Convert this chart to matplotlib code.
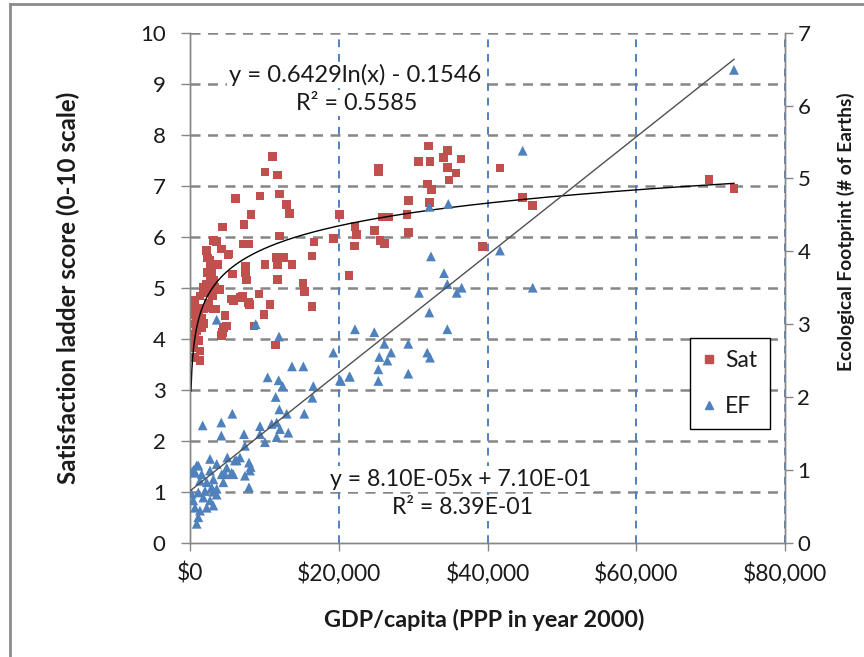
import numpy as np
import matplotlib
matplotlib.use('Agg')
import matplotlib.pyplot as plt
from matplotlib.lines import Line2D

plt.rcParams['font.family'] = ['Lato', 'DejaVu Sans']

# ---- data (GDP per capita in $, satisfaction score 0-10) ----
sat_gdp = [100, 150, 440, 670, 1340, 2020, 1120, 1790, 440, 1570, 670, 1120, 440, 1340, 670, 1340,
           360, 1880, 900, 2240, 3140, 2690, 2910, 2240, 3140, 3590, 4260, 5150, 2800, 2200, 3140,
           4030, 4480, 4260, 3500, 4700, 4930, 4350, 2380, 2780, 3720, 2910, 1800, 2500, 3000, 1600,
           2100, 2600, 300, 800, 1000, 2300, 2700, 3300,
           4350, 3600, 6100, 7260, 8200, 9400, 10100, 11100, 11800, 12000, 13000, 13350, 12000, 16700,
           7170, 7930, 5110, 10080, 11740, 11650, 12550, 13700, 16400, 7440, 5740, 7570, 7490, 11800,
           15200, 15370, 9280, 5830, 7080, 7970, 10760, 16400, 9950, 8600, 11500, 6720, 7840, 5600,
           20070, 19270, 22180, 22140, 21400, 22410, 24780, 25550, 26130, 25860, 26760, 25320, 25320,
           29200, 29350, 29350, 32180, 31900, 32500, 30700, 32270, 32040, 34060, 34600, 36440, 34600,
           35770, 34820, 41680, 39350, 44730, 46080, 69780, 73140]
sat_score = [4.68, 4.71, 4.55, 4.75, 4.84, 4.91, 4.48, 4.58, 4.29, 4.22, 4.09, 3.96, 3.83, 3.76, 3.63, 3.57,
             4.47, 4.30, 4.16, 5.07, 5.14, 5.53, 5.30, 5.73, 5.92, 5.46, 5.76, 5.66, 5.05, 4.98, 4.58,
             4.97, 4.22, 4.06, 4.58, 4.46, 4.25, 4.12, 5.58, 5.45, 5.45, 5.24, 5.00, 4.70, 4.85, 4.40,
             4.60, 4.95, 4.00, 4.35, 4.60, 5.30, 5.20, 5.00,
             6.19, 5.91, 6.75, 6.24, 6.43, 6.80, 7.27, 7.57, 7.21, 6.84, 6.63, 6.46, 6.01, 5.90,
             5.86, 5.86, 5.65, 5.45, 5.45, 5.59, 5.59, 5.45, 5.62, 5.42, 5.27, 5.15, 5.30, 5.16,
             5.09, 4.93, 4.88, 4.75, 4.83, 4.67, 4.67, 4.63, 4.47, 4.25, 3.88, 4.81, 4.71, 4.78,
             6.43, 5.97, 6.20, 5.82, 5.24, 6.04, 6.12, 5.92, 5.87, 6.39, 6.39, 7.34, 7.28,
             6.43, 6.71, 6.08, 6.67, 7.03, 6.92, 7.47, 7.47, 7.78, 7.55, 7.69, 7.52, 7.36,
             7.25, 7.11, 7.35, 5.81, 6.77, 6.61, 7.12, 6.94]

# ---- data (GDP per capita in $, ecological footprint in # of Earths) ----
ef_gdp = [300, 500, 220, 1120, 2020, 2910, 3590, 1340, 2240, 3140, 1790, 2690, 3140, 2240, 1340, 1120,
          900, 440, 670, 2690, 900, 670, 3590, 4930, 6050, 2690, 4260, 5600, 4700, 5830, 1570, 7390,
          4480, 7930, 3580, 3140, 1120, 1700, 4210, 4210, 5690, 7260, 6280, 5020, 7930, 8070, 3590, 8830,
          11970, 19270, 13710, 15240, 10440, 11920, 12460, 16580, 20170, 21500, 11520, 16450, 12010,
          13000, 15370, 9410, 10980, 11650, 12100, 11650, 13220, 9410, 10080, 7390, 6720, 8160, 22180,
          44730, 32180, 34730, 41680, 32400, 34150, 34600, 36530, 35860, 46080, 30790, 32180, 34600,
          24780, 26130, 29350, 27030, 25450, 26530, 31900, 32270, 25320, 25320, 29350, 21420, 20300, 73140]
ef_value = [0.98, 1.00, 0.67, 0.69, 0.71, 0.76, 0.74, 0.85, 0.83, 0.87, 0.62, 0.58, 0.51, 0.48, 0.44, 0.35,
            0.26, 0.58, 0.48, 1.15, 1.06, 0.96, 1.08, 1.03, 1.13, 0.99, 0.94, 0.96, 0.94, 0.94, 0.94, 0.92,
            0.83, 0.76, 0.66, 0.70, 1.06, 1.61, 1.65, 1.47, 1.77, 1.49, 1.13, 1.17, 1.10, 0.99, 3.06, 3.00,
            2.83, 2.61, 2.42, 2.42, 2.27, 2.23, 2.15, 2.15, 2.23, 2.28, 2.00, 1.99, 1.83,
            1.77, 1.77, 1.60, 1.63, 1.65, 1.56, 1.45, 1.51, 1.49, 1.38, 1.33, 1.17, 1.04, 2.93,
            5.38, 4.61, 4.65, 4.01, 3.93, 3.70, 3.55, 3.50, 3.43, 3.50, 3.43, 3.16, 2.93,
            2.89, 2.73, 2.73, 2.61, 2.55, 2.50, 2.61, 2.54, 2.38, 2.22, 2.32, 2.28, 2.22, 6.49]

x_ticks = [0, 20000, 40000, 60000, 80000]
x_tick_labels = ['$0', '$20,000', '$40,000', '$60,000', '$80,000']
sat_ticks = list(range(0, 11))
ef_ticks = list(range(0, 8))

log_coef = [0.6429, -0.1546]     # y = a ln(x) + b
lin_coef = [8.10e-05, 7.10e-01]  # y = m x + c
trend_range = [130, 73140]
sat_eq = 'y = 0.6429ln(x) - 0.1546'
sat_r2 = 'R² = 0.5585'
ef_eq = 'y = 8.10E-05x + 7.10E-01'
ef_r2 = 'R² = 8.39E-01'

RED = '#C0504D'
BLUE = '#4F81BD'
GRID = '#868686'
TXT = '#1a1a1a'
W, H = 864, 657

fig = plt.figure(figsize=(W / 100, H / 100), dpi=100)
ax = fig.add_axes([190 / W, 1 - 542.7 / H, (785 - 190) / W, (542.7 - 32.7) / H])
ax2 = ax.twinx()

ax.set_xlim(0, 80000)
ax.set_ylim(0, 10)
ax2.set_ylim(0, 7)

# gridlines
for yv in sat_ticks[1:]:
    ax.axhline(yv, color=GRID, lw=1.8, dashes=(4, 3), zorder=0.5)
for xv in x_ticks[1:]:
    ax.axvline(xv, color=BLUE, lw=1.4, dashes=(4, 3.5), zorder=0.6, clip_on=False)

# series
ax.scatter(sat_gdp, sat_score, marker='s', s=38, color=RED, edgecolors='none', zorder=3, label='Sat')
ax2.scatter(ef_gdp, ef_value, marker='^', s=50, color=BLUE, edgecolors='none', zorder=3, label='EF')

# trendlines
xt = np.linspace(trend_range[0], trend_range[1], 600)
ax.plot(xt, log_coef[0] * np.log(xt) + log_coef[1], color='black', lw=1.0, zorder=4)
ax2.plot(xt, lin_coef[0] * xt + lin_coef[1], color='#505050', lw=1.0, zorder=4)

# spines / ticks
for a in (ax, ax2):
    a.spines['top'].set_visible(False)
    for s in ('left', 'right', 'bottom'):
        a.spines[s].set_color(GRID)
        a.spines[s].set_linewidth(1.0)

ax.set_xticks(x_ticks)
ax.set_xticklabels(x_tick_labels)
ax.set_yticks(sat_ticks)
ax2.set_yticks(ef_ticks)
ax.tick_params(axis='y', direction='out', length=6.5, width=1, color=GRID, pad=11, labelsize=16, labelcolor=TXT)
ax.tick_params(axis='x', direction='out', length=6, width=1, color=GRID, pad=8, labelsize=16.5, labelcolor=TXT)
ax2.tick_params(axis='y', direction='out', length=6, width=1, color=GRID, pad=3, labelsize=16, labelcolor=TXT)

# axis titles
fig.text(68 / W, 1 - 288 / H, 'Satisfaction ladder score (0-10 scale)', rotation=90,
         ha='center', va='center', fontsize=17.4, fontweight='bold', color=TXT)
fig.text(846 / W, 1 - 232 / H, 'Ecological Footprint (# of Earths)', rotation=90,
         ha='center', va='center', fontsize=13.8, fontweight='bold', color=TXT)
fig.text(484 / W, 1 - 620 / H, 'GDP/capita (PPP in year 2000)',
         ha='center', va='center', fontsize=16.8, fontweight='bold', color=TXT)

# trendline labels
box = dict(facecolor='white', edgecolor='none', pad=1.5)
fig.text(355 / W, 1 - 75 / H, sat_eq, ha='center', va='center', fontsize=17.1, color=TXT, bbox=box)
fig.text(357 / W, 1 - 103 / H, sat_r2, ha='center', va='center', fontsize=16.8, color=TXT, bbox=box)
fig.text(461 / W, 1 - 479 / H, ef_eq, ha='center', va='center', fontsize=16.6, color=TXT, bbox=box)
fig.text(462 / W, 1 - 508 / H, ef_r2, ha='center', va='center', fontsize=16.6, color=TXT, bbox=box)

# legend
handles = [Line2D([], [], marker='s', ls='none', color=RED, markersize=6, label='Sat'),
           Line2D([], [], marker='^', ls='none', color=BLUE, markersize=6, label='EF')]
leg = fig.legend(handles=handles, loc='center', bbox_to_anchor=(730 / W, 1 - 383.5 / H),
                 fontsize=16.5, frameon=True, fancybox=False, edgecolor='black', framealpha=1,
                 handlelength=0.5, handletextpad=0.45, labelspacing=1.05, borderpad=0.55,
                 borderaxespad=0)
leg.get_frame().set_linewidth(1.0)
for t in leg.get_texts():
    t.set_color(TXT)

# outer frame (top and left edges visible)
fig.add_artist(Line2D([10 / W, 10 / W], [0, 1 - 4 / H], color='#8c8c8c', lw=2))
fig.add_artist(Line2D([10 / W, 1], [1 - 4 / H, 1 - 4 / H], color='#8c8c8c', lw=2))

fig.savefig('out.png', dpi=100)
